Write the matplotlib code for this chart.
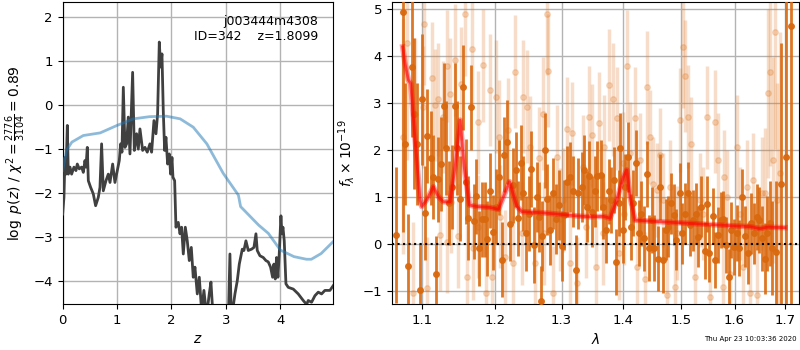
import numpy as np
import matplotlib
matplotlib.use('Agg')
import matplotlib.pyplot as plt
from matplotlib.ticker import NullLocator

# ---- left panel: redshift fit ----
z_grid = [0.000, 0.024, 0.043, 0.061, 0.086, 0.104, 0.135, 0.165, 0.208, 0.245,
          0.269, 0.306, 0.349, 0.380, 0.410, 0.429, 0.453, 0.472, 0.514, 0.563,
          0.606, 0.655, 0.686, 0.716, 0.747, 0.796, 0.839, 0.870, 0.919, 0.961,
          1.004, 1.041, 1.066, 1.090, 1.115, 1.145, 1.176, 1.206, 1.237, 1.286,
          1.317, 1.359, 1.390, 1.421, 1.470, 1.513, 1.555, 1.604, 1.635, 1.678,
          1.715, 1.745, 1.776, 1.800, 1.825, 1.849, 1.874, 1.898, 1.929, 1.960,
          1.984, 2.009, 2.027, 2.058, 2.082, 2.125, 2.156, 2.186, 2.217, 2.254,
          2.290, 2.327, 2.364, 2.400, 2.431, 2.474, 2.511, 2.554, 2.596, 2.645,
          2.694, 2.725, 2.768, 2.890, 3.043, 3.074, 3.099, 3.166, 3.209, 3.246,
          3.270, 3.301, 3.331, 3.368, 3.411, 3.472, 3.515, 3.552, 3.576, 3.625,
          3.686, 3.735, 3.778, 3.821, 3.858, 3.882, 3.907, 3.931, 3.956, 3.980,
          4.011, 4.029, 4.048, 4.072, 4.103, 4.146, 4.238, 4.329, 4.421, 4.483,
          4.513, 4.574, 4.636, 4.697, 4.758, 4.819, 4.911, 4.973]
log_pz = [-2.48, -2.10, -1.19, -1.57, -0.46, -1.57, -1.41, -1.57, -1.41, -1.49,
          -1.34, -1.45, -1.41, -1.53, -1.26, -1.41, -0.96, -1.72, -1.87, -2.02,
          -2.29, -2.10, -1.87, -0.88, -1.95, -1.72, -1.57, -1.76, -1.34, -1.76,
          -1.49, -1.26, -0.88, -1.07, 0.41, -0.96, -0.88, -0.27, -1.11, 0.75,
          -1.03, -0.65, -1.00, -0.54, -1.03, -0.96, -1.07, -0.88, -1.07, -0.35,
          -0.65, -0.20, 1.44, 0.87, 1.17, -0.12, -1.03, -0.73, -1.34, -1.11,
          -1.57, -1.19, -1.64, -1.72, -2.78, -2.67, -2.93, -2.78, -3.39, -2.78,
          -3.09, -3.54, -3.24, -3.92, -3.69, -4.30, -3.92, -4.70, -4.22, -4.80,
          -4.30, -4.03, -4.90, -5.50, -5.00, -3.39, -4.90, -4.30, -4.00, -3.62,
          -3.47, -3.28, -3.31, -3.09, -3.31, -3.28, -3.24, -2.93, -3.31, -3.43,
          -3.47, -3.54, -3.57, -3.69, -3.92, -3.62, -3.96, -3.47, -3.92, -3.39,
          -2.52, -2.93, -2.78, -3.09, -4.07, -4.15, -4.19, -4.30, -4.45, -4.54,
          -4.45, -4.49, -4.34, -4.26, -4.30, -4.22, -4.22, -4.11]

z_prior = [0.0, 0.07, 0.17, 0.38, 0.69, 1.0, 1.3, 1.6, 1.91, 2.16, 2.4, 2.65,
           2.95, 3.23, 3.27, 3.6, 3.78, 4.0, 4.25, 4.48, 4.57, 4.75, 4.97]
log_prior = [-1.49, -1.03, -0.84, -0.69, -0.63, -0.46, -0.31, -0.26, -0.25, -0.31,
             -0.50, -0.88, -1.55, -2.05, -2.31, -2.73, -2.92, -3.30, -3.45, -3.51,
             -3.51, -3.38, -3.11]

# ---- right panel: 1D spectrum ----
dark_wave = [1.0662, 1.0748, 1.0774, 1.0816, 1.0860, 1.0890, 1.0934, 1.0966, 1.1000, 1.1032,
             1.1066, 1.1111, 1.1146, 1.1178, 1.1213, 1.1253, 1.1290, 1.1321, 1.1358, 1.1403,
             1.1440, 1.1472, 1.1509, 1.1550, 1.1588, 1.1620, 1.1662, 1.1704, 1.1736, 1.1774,
             1.1812, 1.1859, 1.1892, 1.1930, 1.1973, 1.2021, 1.2057, 1.2096, 1.2135, 1.2183,
             1.2223, 1.2262, 1.2311, 1.2340, 1.2380, 1.2419, 1.2460, 1.2500, 1.2539, 1.2580,
             1.2620, 1.2660, 1.2680, 1.2706, 1.2747, 1.2782, 1.2823, 1.2864, 1.2916, 1.2958,
             1.3000, 1.3041, 1.3083, 1.3135, 1.3177, 1.3224, 1.3261, 1.3315, 1.3358, 1.3400,
             1.3443, 1.3486, 1.3529, 1.3573, 1.3628, 1.3666, 1.3710, 1.3755, 1.3793, 1.3838,
             1.3876, 1.3921, 1.3943, 1.3987, 1.4032, 1.4077, 1.4122, 1.4167, 1.4208, 1.4258,
             1.4304, 1.4350, 1.4396, 1.4442, 1.4488, 1.4534, 1.4587, 1.4639, 1.4686, 1.4734,
             1.4780, 1.4828, 1.4881, 1.4923, 1.4983, 1.5031, 1.5080, 1.5122, 1.5176, 1.5225,
             1.5273, 1.5322, 1.5371, 1.5434, 1.5471, 1.5521, 1.5583, 1.5621, 1.5678, 1.5733,
             1.5784, 1.5834, 1.5885, 1.5937, 1.5988, 1.6038, 1.6091, 1.6141, 1.6193, 1.6259,
             1.6318, 1.6376, 1.6428, 1.6480, 1.6532, 1.6586, 1.6638, 1.6692, 1.6745, 1.6813,
             1.6908, 1.7029, 1.7132]
dark_flux = [0.20, 4.95, 2.14, -0.47, 3.78, 2.78, 2.14, -0.98, 3.08, 0.67,
             2.30, 1.84, 1.43, -0.63, 1.38, 1.70, 2.95, 2.04, 0.87, 1.22,
             2.95, 2.04, 0.97, 3.34, 1.33, 0.55, 2.91, 0.49, 1.02, -0.09,
             0.53, 0.53, 0.11, 1.14, 0.25, 0.80, 1.42, -0.33, 1.90, 2.17,
             0.43, 1.25, 1.58, 0.55, 1.73, 1.08, 0.23, 0.65, 1.60, -0.02,
             1.00, 0.58, -1.22, 0.17, 2.00, 0.95, 0.30, 1.08, 0.53, 0.83,
             -0.04, 0.62, 1.33, 1.43, 1.12, -0.55, 1.08, 1.22, 1.58, 0.80,
             1.45, 0.69, 1.12, 1.45, 1.47, 0.80, 0.30, 1.12, 0.94, 1.36,
             -0.38, 0.87, 2.04, 0.30, 1.22, 1.86, 0.37, 0.87, 1.72, 0.23,
             0.65, 0.12, 1.49, -0.09, 0.51, -0.09, -0.31, 1.22, -0.34, 0.30,
             0.37, 0.87, 0.62, 0.09, 1.08, 0.23, 0.65, 1.09, 0.40, 0.51,
             0.65, 0.16, 0.80, -0.14, 0.85, -0.20, 0.60, -0.34, 0.19, 0.51,
             0.53, -0.02, -0.70, 0.30, -0.06, 0.23, -0.09, 1.00, 0.17, -0.20,
             0.44, 0.23, 0.58, 0.51, 0.12, -0.31, 0.23, 0.44, -0.09, -0.16,
             1.29, 1.86, 4.64]
dark_err = [1.45, 4.70, 1.30, 1.10, 1.50, 1.60, 1.30, 1.00, 1.40, 1.00,
            1.00, 1.00, 0.90, 0.80, 0.90, 1.00, 0.90, 1.00, 0.90, 0.90,
            0.90, 1.00, 0.90, 0.90, 0.90, 0.90, 0.90, 0.80, 0.80, 0.80,
            0.80, 0.80, 0.80, 0.80, 0.80, 0.80, 0.80, 0.80, 0.80, 0.90,
            0.80, 0.80, 0.80, 0.80, 0.80, 0.80, 0.80, 0.80, 0.80, 0.80,
            0.75, 0.75, 0.75, 0.75, 0.80, 0.75, 0.75, 0.75, 0.75, 0.75,
            0.75, 0.75, 0.75, 0.75, 0.75, 0.75, 0.75, 0.75, 0.75, 0.75,
            0.75, 0.75, 0.75, 0.75, 0.75, 0.70, 0.70, 0.70, 0.70, 0.70,
            0.70, 0.70, 0.75, 0.70, 0.70, 0.75, 0.70, 0.70, 0.70, 0.70,
            0.70, 0.70, 0.70, 0.70, 0.70, 0.70, 0.70, 0.70, 0.70, 0.65,
            0.65, 0.65, 0.65, 0.65, 0.65, 0.65, 0.65, 0.65, 0.65, 0.65,
            0.65, 0.65, 0.65, 0.60, 0.60, 0.60, 0.60, 0.60, 0.60, 0.60,
            0.60, 0.60, 0.60, 0.60, 0.60, 0.60, 0.60, 0.60, 0.65, 0.65,
            0.65, 0.65, 0.70, 0.70, 0.70, 0.75, 0.80, 0.90, 1.00, 1.50,
            3.00, 5.00, 6.00]

light_wave = [1.0744, 1.0795, 1.0882, 1.0904, 1.1004, 1.1022, 1.1067, 1.1129, 1.1169, 1.1214,
              1.1236, 1.1281, 1.1327, 1.1336, 1.1372, 1.1380, 1.1445, 1.1486, 1.1518, 1.1573,
              1.1610, 1.1676, 1.1695, 1.1756, 1.1760, 1.1836, 1.1869, 1.1931, 1.1955, 1.2017,
              1.2065, 1.2075, 1.2148, 1.2197, 1.2271, 1.2300, 1.2394, 1.2418, 1.2478, 1.2519,
              1.2599, 1.2660, 1.2721, 1.2730, 1.2773, 1.2783, 1.2865, 1.2926, 1.2978, 1.3030,
              1.3082, 1.3135, 1.3161, 1.3241, 1.3336, 1.3394, 1.3432, 1.3485, 1.3550, 1.3599,
              1.3670, 1.3681, 1.3769, 1.3835, 1.3890, 1.3935, 1.4002, 1.4010, 1.4069, 1.4115,
              1.4199, 1.4228, 1.4285, 1.4370, 1.4399, 1.4457, 1.4515, 1.4573, 1.4632, 1.4690,
              1.4749, 1.4808, 1.4897, 1.4928, 1.4988, 1.5048, 1.5078, 1.5138, 1.5186, 1.5260,
              1.5352, 1.5413, 1.5475, 1.5537, 1.5631, 1.5693, 1.5787, 1.5795, 1.5851, 1.5914,
              1.6042, 1.6106, 1.6171, 1.6236, 1.6301, 1.6366, 1.6432, 1.6530, 1.6597, 1.6664,
              1.6697, 1.6751, 1.6798, 1.6845, 1.6900]
light_flux = [2.29, 4.28, -1.04, 2.78, 2.91, 4.69, -0.94, 3.53, 2.96, 3.08,
              0.19, 2.71, 0.05, 3.79, 3.19, 0.90, 3.92, 0.17, 3.42, 4.89,
              -0.70, 4.15, -0.09, 0.37, 2.59, 3.81, -1.05, 3.28, -0.70, 3.14,
              2.29, 0.58, -0.27, 2.43, -0.41, 3.67, 0.23, 3.14, 2.93, 2.06,
              -0.41, 1.83, 2.78, 0.23, 4.90, 3.69, -1.05, 1.86, 0.53, 0.94,
              2.46, -0.41, 2.36, -0.84, 1.65, 0.37, 2.70, 2.32, -0.48, 2.57,
              0.23, 2.07, 3.39, 3.08, 2.68, -0.20, 1.72, 0.65, 3.79, 1.93,
              2.68, -0.48, 1.79, -0.75, 3.34, 2.29, 1.29, 1.15, 1.90, 0.94,
              -1.09, 1.22, -0.91, 0.23, 2.64, 4.20, 3.58, 2.71, 2.14, -0.70,
              0.94, 0.65, 2.70, -1.12, 2.61, 1.79, -0.91, 1.43, 1.01, -0.63,
              2.07, 0.65, -0.48, 1.22, -1.05, 1.36, -1.09, 1.08, 1.08, 3.21,
              3.67, 1.79, 4.52, 0.94, 1.51]
light_err = [2.50, 2.50, 1.50, 1.60, 1.30, 1.30, 1.10, 1.20, 1.20, 1.20,
             1.20, 1.20, 1.10, 1.20, 1.20, 1.10, 1.20, 1.10, 1.20, 1.30,
             1.10, 1.20, 1.10, 1.10, 1.10, 1.20, 1.00, 1.20, 1.00, 1.20,
             1.20, 1.10, 1.00, 1.10, 1.00, 1.20, 1.10, 1.20, 1.20, 1.10,
             1.00, 1.10, 1.20, 1.10, 1.30, 1.20, 1.00, 1.10, 1.10, 1.10,
             1.10, 1.00, 1.10, 1.00, 1.10, 1.10, 1.10, 1.10, 1.00, 1.10,
             1.10, 1.10, 1.20, 1.20, 1.10, 1.00, 1.10, 1.10, 1.20, 1.10,
             1.10, 1.00, 1.00, 1.00, 1.20, 1.00, 1.00, 1.00, 1.00, 1.00,
             1.00, 1.00, 1.00, 1.00, 1.10, 1.30, 1.20, 1.10, 1.00, 0.90,
             1.00, 1.00, 1.10, 0.90, 1.10, 1.00, 0.90, 1.00, 1.00, 0.90,
             1.10, 1.00, 0.90, 1.00, 0.90, 1.00, 1.00, 1.20, 1.40, 1.80,
             2.00, 2.20, 2.50, 2.50, 3.00]

model_wave = [1.0743, 1.0773, 1.0816, 1.0847, 1.0904, 1.0969, 1.0991, 1.1057, 1.1146, 1.1213,
              1.1281, 1.1372, 1.1441, 1.1510, 1.1565, 1.1639, 1.1742, 1.1932, 1.2052, 1.2125,
              1.2213, 1.2262, 1.2321, 1.2395, 1.2671, 1.2926, 1.3240, 1.3453, 1.3670, 1.3780,
              1.3890, 1.4002, 1.4058, 1.4114, 1.4199, 1.4573, 1.5168, 1.5787, 1.6301, 1.6497,
              1.6631, 1.7000]
model_flux = [4.20, 3.85, 3.50, 3.42, 2.22, 0.94, 0.80, 0.94, 1.22, 1.01,
              0.90, 0.90, 1.65, 2.64, 1.65, 0.83, 0.80, 0.78, 0.74, 1.01,
              1.33, 1.08, 0.80, 0.69, 0.67, 0.64, 0.60, 0.58, 0.59, 0.55,
              0.94, 1.43, 1.58, 1.01, 0.51, 0.48, 0.44, 0.40, 0.37, 0.33,
              0.36, 0.35]

stamp = 'Thu Apr 23 10:03:36 2020'

fig = plt.figure(figsize=(8, 3.5), dpi=100)

ax = fig.add_axes([0.0783, 0.1314, 0.3383, 0.8638])
ax.plot(z_grid, log_pz, color='0.25', lw=2, zorder=3)
ax.plot(z_prior, log_prior, color='tab:blue', alpha=0.5, lw=2, zorder=4)
ax.set_xlim(0, 4.973)
ax.set_ylim(-4.53, 2.36)
ax.set_xticks([0, 1, 2, 3, 4])
ax.set_yticks([-4, -3, -2, -1, 0, 1, 2])
ax.grid(color='0.7', lw=1)
ax.set_axisbelow(True)
ax.set_xlabel('$z$', fontsize=10)
ax.set_ylabel(r'$\log\ p(z)$ / $\chi^2=\frac{2776}{3104}=0.89$', fontsize=10)
ax.tick_params(labelsize=9.5)
ax.text(0.945, 0.956, 'j003444m4308\nID=342    z=1.8099', ha='right', va='top',
        transform=ax.transAxes, fontsize=9)

ax2 = fig.add_axes([0.4896, 0.1314, 0.5092, 0.8638])
ax2.errorbar(light_wave, light_flux, yerr=light_err, fmt='o', color='#e07a2a',
             ms=4, elinewidth=2.5, alpha=0.25, zorder=2)
ax2.errorbar(dark_wave, dark_flux, yerr=dark_err, fmt='o', color='#d9690f',
             ms=4, elinewidth=2, alpha=0.9, zorder=3)
ax2.plot(model_wave, model_flux, color='r', alpha=0.35, lw=4, zorder=5)
ax2.plot(model_wave, model_flux, color='r', alpha=0.6, lw=2, zorder=5)
ax2.axhline(0, color='k', linestyle=':', lw=1.5, zorder=6)
ax2.set_xscale('log')
ax2.set_xlim(1.0602, 1.7288)
ax2.set_ylim(-1.277, 5.163)
ticks = [1.1, 1.2, 1.3, 1.4, 1.5, 1.6, 1.7]
ax2.set_xticks(ticks)
ax2.set_xticklabels(['%.1f' % t for t in ticks])
ax2.xaxis.set_minor_locator(NullLocator())
ax2.set_yticks([-1, 0, 1, 2, 3, 4, 5])
ax2.grid(color='0.7', lw=1)
ax2.set_axisbelow(True)
ax2.set_xlabel(r'$\lambda$', fontsize=10)
ax2.set_ylabel(r'$f_\lambda \times 10^{-19}$', fontsize=10)
ax2.tick_params(labelsize=9.5)

fig.text(0.996, 0.022, stamp, ha='right', va='bottom', fontsize=5)

fig.savefig('out.png', dpi=100)
